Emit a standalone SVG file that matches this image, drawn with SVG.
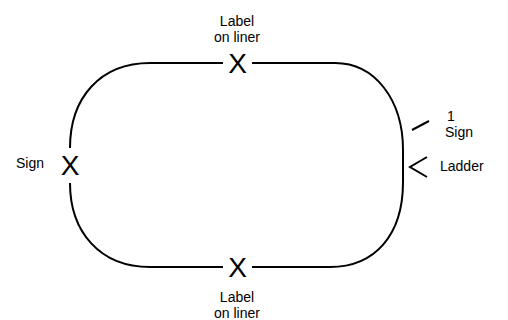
<svg xmlns="http://www.w3.org/2000/svg" width="508" height="320" viewBox="0 0 508 320">
<style>
.track{fill:none;stroke:#000;stroke-width:2}
.lbl{font-family:"Liberation Sans",Arial,sans-serif;font-size:14px;fill:#000}
.sym{font-family:"Liberation Sans",Arial,sans-serif;font-size:28px;fill:#000}
.mark{fill:none;stroke:#000;stroke-width:2}
</style>
<rect width="508" height="320" fill="#fff"/>
<g id="connectors">
<path class="track" d="M 70 148 C 70 98 100 63 150 63 L 223 63"/>
<path class="track" d="M 252 63 L 335 63 C 375 63 403 100 403 150 L 403 182 C 403 235 375 267 330 267 L 252 267"/>
<path class="track" d="M 223 267 L 150 267 C 100 267 70 232 70 183"/>
</g>
<g id="top-label">
<text class="sym" x="237.5" y="73" text-anchor="middle">X</text>
<text class="lbl" x="237" y="26" text-anchor="middle">Label</text>
<text class="lbl" x="237" y="42" text-anchor="middle">on liner</text>
</g>
<g id="bottom-label">
<text class="sym" x="237.5" y="277" text-anchor="middle">X</text>
<text class="lbl" x="237" y="302" text-anchor="middle">Label</text>
<text class="lbl" x="237" y="318" text-anchor="middle">on liner</text>
</g>
<g id="left-sign">
<text class="sym" x="70" y="175" text-anchor="middle">X</text>
<text class="lbl" x="16" y="168">Sign</text>
</g>
<g id="right-sign">
<line class="mark" x1="412" y1="130" x2="429" y2="121"/>
<text class="lbl" x="451" y="121" text-anchor="middle">1</text>
<text class="lbl" x="445" y="137">Sign</text>
</g>
<g id="right-ladder">
<polyline class="mark" points="427,157 410,167 427,177"/>
<text class="lbl" x="440" y="171">Ladder</text>
</g>
</svg>
